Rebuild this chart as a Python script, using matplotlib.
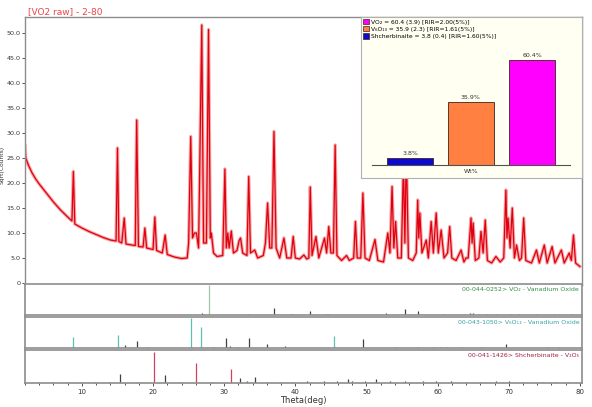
import numpy as np
import matplotlib
matplotlib.use("Agg")
import matplotlib.pyplot as plt
from matplotlib.patches import Patch

theta = [2.0, 2.1, 2.5, 3.0, 3.5, 4.0, 5.0, 6.0, 7.0, 8.0, 8.6, 8.8, 9.0, 10.0, 11.0,
         12.0, 13.0, 14.0, 14.8, 15.0, 15.2, 15.6, 15.95, 16.2, 17.0, 17.5, 17.7, 17.95,
         18.6, 18.85, 19.1, 20.0, 20.25, 20.5, 21.3, 21.7, 22.0, 23.0, 24.0, 24.8, 25.0,
         25.3, 25.55, 25.8, 26.1, 26.4, 26.85, 27.1, 27.5, 27.8, 28.05, 28.2, 28.5, 29.0,
         29.8, 30.1, 30.3, 30.5, 30.7, 31.0, 31.3, 31.8, 32.1, 32.3, 32.6, 33.2, 33.45,
         33.7, 34.3, 34.7, 35.5, 35.8, 36.1, 36.4, 36.7, 37.0, 37.3, 37.8, 38.4, 38.8,
         39.4, 39.7, 40.0, 40.6, 41.2, 41.6, 41.9, 42.1, 42.35, 42.9, 43.3, 44.1, 44.4,
         44.7, 45.0, 45.35, 45.6, 45.85, 46.5, 47.2, 47.6, 48.2, 48.45, 48.7, 49.2, 49.5,
         49.8, 50.4, 51.2, 51.6, 52.4, 53.0, 53.3, 53.6, 53.85, 54.1, 54.4, 54.9, 55.2,
         55.4, 55.6, 55.9, 56.5, 57.0, 57.2, 57.35, 57.5, 57.8, 58.4, 58.7, 59.1, 59.4,
         59.8, 60.1, 60.5, 60.9, 61.4, 61.7, 62.0, 62.6, 63.3, 63.7, 64.0, 64.3, 64.7,
         64.85, 65.0, 65.3, 65.8, 66.1, 66.4, 66.7, 67.0, 67.6, 68.2, 68.8, 69.3, 69.6,
         69.75, 69.9, 70.2, 70.5, 70.8, 71.1, 71.5, 71.8, 72.1, 72.4, 73.2, 73.9, 74.3,
         75.0, 75.4, 76.1, 76.5, 77.4, 77.8, 78.5, 78.8, 79.1, 79.4, 80.0]
counts = [27.5, 25.0, 23.5, 22.0, 20.8, 19.8, 18.0, 16.2, 14.6, 13.2, 12.4, 22.3, 11.8, 11.0, 10.3,
          9.7, 9.1, 8.6, 8.4, 27.0, 8.3, 8.0, 13.0, 7.8, 7.6, 7.5, 32.6, 7.3,
          7.2, 11.0, 7.0, 6.7, 13.2, 6.5, 6.0, 9.6, 5.7, 5.2, 4.9, 5.0, 8.0,
          29.3, 9.0, 10.0, 10.0, 7.0, 51.6, 8.0, 8.0, 50.7, 9.0, 10.0, 6.0, 5.3,
          5.5, 22.8, 7.0, 10.0, 7.0, 10.4, 6.0, 6.5, 8.5, 9.0, 6.0, 5.5, 21.3,
          6.0, 6.6, 5.0, 5.5, 8.0, 16.0, 7.0, 7.0, 30.3, 7.0, 5.0, 9.0, 5.0,
          5.0, 9.3, 5.0, 4.8, 5.6, 4.8, 5.0, 19.2, 5.5, 9.3, 5.0, 9.0, 6.0,
          11.3, 6.0, 6.0, 27.6, 5.5, 4.5, 5.5, 4.5, 5.0, 12.3, 5.0, 5.0, 18.0,
          5.0, 4.5, 8.7, 4.5, 4.2, 10.0, 6.0, 19.3, 7.0, 12.3, 5.0, 5.0, 24.0,
          8.0, 27.0, 5.0, 4.5, 6.0, 16.6, 9.0, 14.0, 6.0, 8.6, 5.0, 12.3, 6.0,
          14.0, 6.0, 10.6, 5.0, 6.0, 11.3, 5.0, 4.5, 6.6, 4.2, 5.0, 5.0, 13.0,
          8.0, 12.0, 4.5, 5.0, 10.3, 6.0, 12.6, 4.5, 4.0, 5.3, 4.2, 5.0, 18.6,
          9.0, 13.0, 7.0, 15.0, 5.0, 7.6, 4.5, 5.0, 13.0, 4.5, 4.0, 6.6, 4.0,
          7.6, 4.0, 7.3, 4.0, 6.6, 4.0, 6.0, 4.5, 9.6, 4.0, 3.3]

# reference cards: stick positions and relative intensities
vo2_pos = [26.95, 27.85, 33.4, 37.0, 39.2, 39.6, 42.1, 44.3, 44.6, 52.8, 55.4, 57.2,
           60.7, 64.5, 65.0, 67.0, 68.2, 70.3, 71.5, 73.9, 76.4, 78.8]
vo2_int = [0.08, 1.0, 0.05, 0.25, 0.04, 0.04, 0.15, 0.05, 0.04, 0.06, 0.22, 0.15,
           0.04, 0.07, 0.06, 0.04, 0.04, 0.05, 0.04, 0.04, 0.04, 0.04]
v6o13_pos = [8.8, 15.1, 16.0, 17.7, 19.1, 25.3, 26.8, 28.45, 30.2, 30.8, 31.9, 33.5,
             36.0, 38.5, 45.5, 49.5, 54.2, 57.2, 59.3, 60.3, 61.3, 63.5, 66.1, 69.6,
             75.5, 77.0]
v6o13_int = [0.38, 0.45, 0.1, 0.25, 0.05, 1.0, 0.7, 0.04, 0.35, 0.06, 0.04, 0.35,
             0.12, 0.08, 0.42, 0.3, 0.05, 0.05, 0.04, 0.05, 0.04, 0.04, 0.05, 0.15,
             0.03, 0.03]
v2o5_pos = [3.8, 5.8, 7.8, 9.8, 11.8, 13.8, 15.35, 17.8, 20.2, 21.7, 23.8, 26.1, 28.3,
            31.0, 32.2, 33.2, 34.3, 36.0, 37.8, 39.5, 41.6, 44.1, 45.9, 47.4, 47.9,
            49.75, 51.4, 53.3, 55.4, 57.9, 59.8, 61.9, 64.0, 65.9, 68.2, 70.1, 72.0,
            74.8, 76.7, 78.3]
v2o5_int = [0.03, 0.03, 0.03, 0.03, 0.03, 0.03, 0.3, 0.04, 1.0, 0.25, 0.03, 0.65, 0.03,
            0.45, 0.15, 0.05, 0.2, 0.04, 0.04, 0.04, 0.06, 0.05, 0.06, 0.12, 0.06,
            0.05, 0.12, 0.05, 0.05, 0.05, 0.05, 0.05, 0.04, 0.04, 0.05, 0.05, 0.04,
            0.04, 0.04, 0.04]

# quantitative phase analysis (inset)
phases = ["Shcherbinaite", "V\u2086O\u2081\u2083", "VO\u2082"]
wt = [3.8, 35.9, 60.4]
esd = [0.4, 2.3, 3.9]
rir = [1.60, 1.61, 2.00]
bar_colors = ["#0a0ad0", "#ff8040", "#ff00ff"]

fig = plt.figure(figsize=(5.92, 4.07), dpi=100)
grey = "#8c8c8c"
tcol = "#333333"

ax = fig.add_axes([25/592, 1-285/407, 557/592, 268/407])
# thick pale stroke under a thin dark one, to get the fuzzy look of the scan
ax.plot(theta, counts, color="#f03a3a", lw=2.4, alpha=0.45)
ax.plot(theta, counts, color="#e00010", lw=0.9)
ax.set_xlim(2, 80.3)
ax.set_ylim(-0.4, 53.2)
ax.set_xticks([])
ax.set_yticks(np.arange(0, 55, 5))
ax.set_yticklabels(["0"] + ["%.1f" % v for v in np.arange(5, 55, 5)])
ax.tick_params(axis="y", labelsize=4.6, colors=tcol, length=2, width=0.6, pad=1)
for s in ax.spines.values():
    s.set_color(grey)
    s.set_linewidth(1.0)
ax.text(0.005, 1.005, "[VO2 raw] - 2-80", transform=ax.transAxes, color="#e84848",
        fontsize=6.5, va="bottom", ha="left")
fig.text(2.6/592, 1-165/407, "Sqrt(Counts)", rotation=90, fontsize=4.3, color=tcol,
         va="center", ha="center")

# stick panels
cards = [(vo2_pos, vo2_int, "#a6c4a6", "#2f8f3f", "00-044-0252> VO\u2082 - Vanadium Oxide"),
         (v6o13_pos, v6o13_int, "#5cc0b0", "#3aa0a0", "00-043-1050> V\u2086O\u2081\u2083 - Vanadium Oxide"),
         (v2o5_pos, v2o5_int, "#d04060", "#a02040", "00-041-1426> Shcherbinaite - V\u2082O\u2085")]
tops = [284, 317, 350]
bots = [315, 348, 383]
panels = []
for (pos, inten, col, lcol, lab), t, b in zip(cards, tops, bots):
    p = fig.add_axes([25/592, 1-b/407, 557/592, (b-t)/407])
    cols = [col if v >= 0.38 else "#404040" for v in inten]
    p.vlines(pos, 0, inten, colors=cols, lw=0.9)
    p.set_xlim(2, 80.3)
    p.set_ylim(0, 1.05)
    p.set_yticks([])
    p.set_xticks([])
    for s in p.spines.values():
        s.set_color(grey)
        s.set_linewidth(1.2)
    p.text(0.995, 0.9, lab, transform=p.transAxes, ha="right", va="top", fontsize=4.5,
           color=lcol)
    panels.append(p)

bp = panels[-1]
bp.set_xticks(np.arange(10, 81, 10))
bp.set_xticks(np.arange(2, 81, 2), minor=True)
bp.tick_params(axis="x", which="both", labelsize=5, colors=tcol, length=2, width=0.6, pad=2)
bp.tick_params(axis="x", which="minor", length=1.5)
bp.set_xlabel("Theta(deg)", fontsize=6, color=tcol, labelpad=1)

# inset with weight fractions
ins = fig.add_axes([361/592, 1-178/407, 221/592, 161/407], zorder=5)
ins.set_facecolor("#fffff2")
xs = [0.222, 0.496, 0.774]
bars = ins.bar(xs, wt, width=0.208, color=bar_colors, edgecolor="#402020", lw=0.6)
for x, v in zip(xs, wt):
    ins.text(x, v + 1.2, "%.1f%%" % v, ha="center", va="bottom", fontsize=4.5, color=tcol)
ins.axhline(0, xmin=0.05, xmax=0.946, color="#505050", lw=0.8)
ins.text(0.5, -4, "Wt%", ha="center", va="center", fontsize=4.5, color=tcol)
ins.set_xlim(0, 1)
ins.set_ylim(-7.5, 85)
ins.set_xticks([])
ins.set_yticks([])
for s in ins.spines.values():
    s.set_color("#b0b0b0")
    s.set_linewidth(0.8)
handles = []
for i in [2, 1, 0]:
    lab = "%s = %.1f (%.1f) [RIR=%.2f(5%%)]" % (phases[i], wt[i], esd[i], rir[i])
    handles.append(Patch(facecolor=bar_colors[i], edgecolor="#402020", lw=0.5, label=lab))
ins.legend(handles=handles, loc="upper left", frameon=False, fontsize=4.3,
           handlelength=1.0, handleheight=1.0, handletextpad=0.3, labelspacing=0.25,
           borderaxespad=0.2, borderpad=0.1)

fig.savefig("out.png", dpi=100)
